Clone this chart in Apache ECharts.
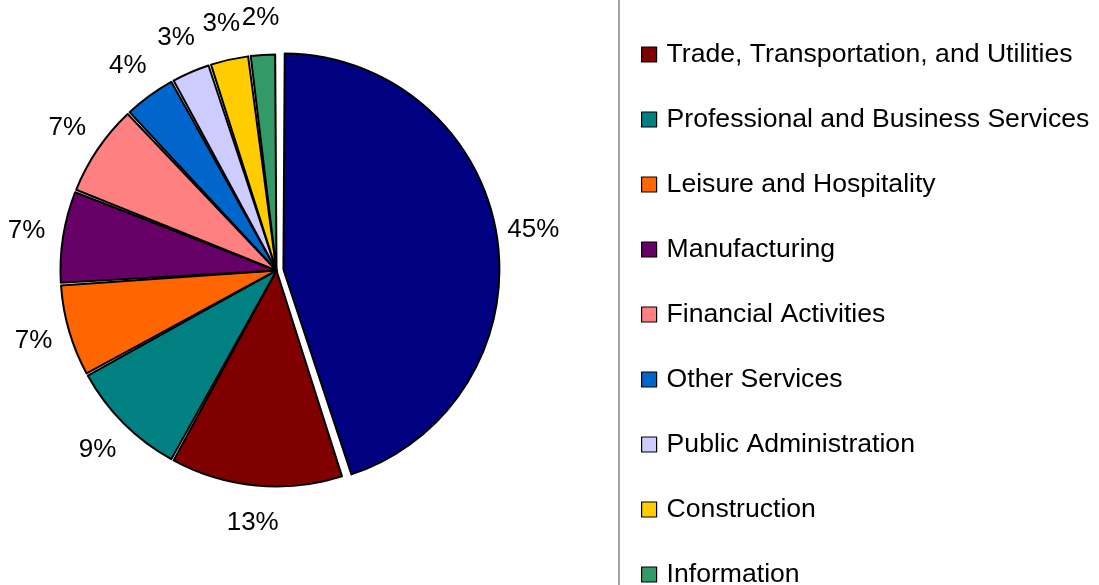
<!DOCTYPE html>
<html><head><meta charset="utf-8">
<script src="https://cdn.jsdelivr.net/npm/echarts@6/dist/echarts.min.js"></script>
<style>html,body{margin:0;padding:0;background:#fff}#c{width:1099px;height:585px}</style>
</head><body><div id="c"></div>
<script>
const categories = ["Education and Health Services","Trade, Transportation, and Utilities","Professional and Business Services","Leisure and Hospitality","Manufacturing","Financial Activities","Other Services","Public Administration","Construction","Information"];
const shares = [45, 13, 9, 7, 7, 7, 4, 3, 3, 2];
const explodedName = "Education and Health Services";
const palette = ["#000080","#800000","#008080","#FF6600","#660066","#FF8080","#0066CC","#CCCCFF","#FFCC00","#339966"];

const FONT = '"Liberation Sans", Arial, Helvetica, sans-serif';
const CENTER = [276.5, 270.5];

function buildData(withColor) {
  return categories.map((name, i) => {
    const d = { name: name, value: shares[i], selected: name === explodedName };
    if (withColor) d.itemStyle = { color: palette[i] };
    return d;
  });
}

const chart = echarts.init(document.getElementById('c'), null, { renderer: 'canvas' });
chart.setOption({
  backgroundColor: '#fff',
  animation: false,
  legend: {
    orient: 'vertical',
    left: 619,
    top: -34,
    height: 900,
    icon: 'rect',
    itemWidth: 15,
    itemHeight: 15,
    itemGap: 28,
    padding: [5, 40, 5, 22],
    borderColor: '#666',
    borderWidth: 1.2,
    selectedMode: false,
    itemStyle: { borderColor: '#000', borderWidth: 1.2 },
    textStyle: { fontSize: 26.6, fontFamily: FONT, color: '#000', lineHeight: 30, padding: [0, 0, 7, 5] },
    data: categories
  },
  series: [
    {
      type: 'pie',
      center: CENTER,
      radius: 216,
      startAngle: 90,
      clockwise: true,
      padAngle: 0.7,
      selectedMode: 'single',
      selectedOffset: 7,
      label: { show: false },
      labelLine: { show: false },
      emphasis: { disabled: true },
      itemStyle: { borderColor: '#000', borderWidth: 2 },
      data: buildData(true)
    },
    {
      type: 'pie',
      center: CENTER,
      radius: [216, 284],
      startAngle: 90,
      clockwise: true,
      silent: true,
      selectedMode: 'single',
      selectedOffset: 7,
      emphasis: { disabled: true },
      itemStyle: { color: 'rgba(0,0,0,0)', borderWidth: 0 },
      label: { show: true, position: 'inside', formatter: '{c}%', fontSize: 26, fontFamily: FONT, color: '#000', textBorderWidth: 0 },
      labelLine: { show: false },
      data: buildData(false)
    }
  ]
});
</script></body></html>
